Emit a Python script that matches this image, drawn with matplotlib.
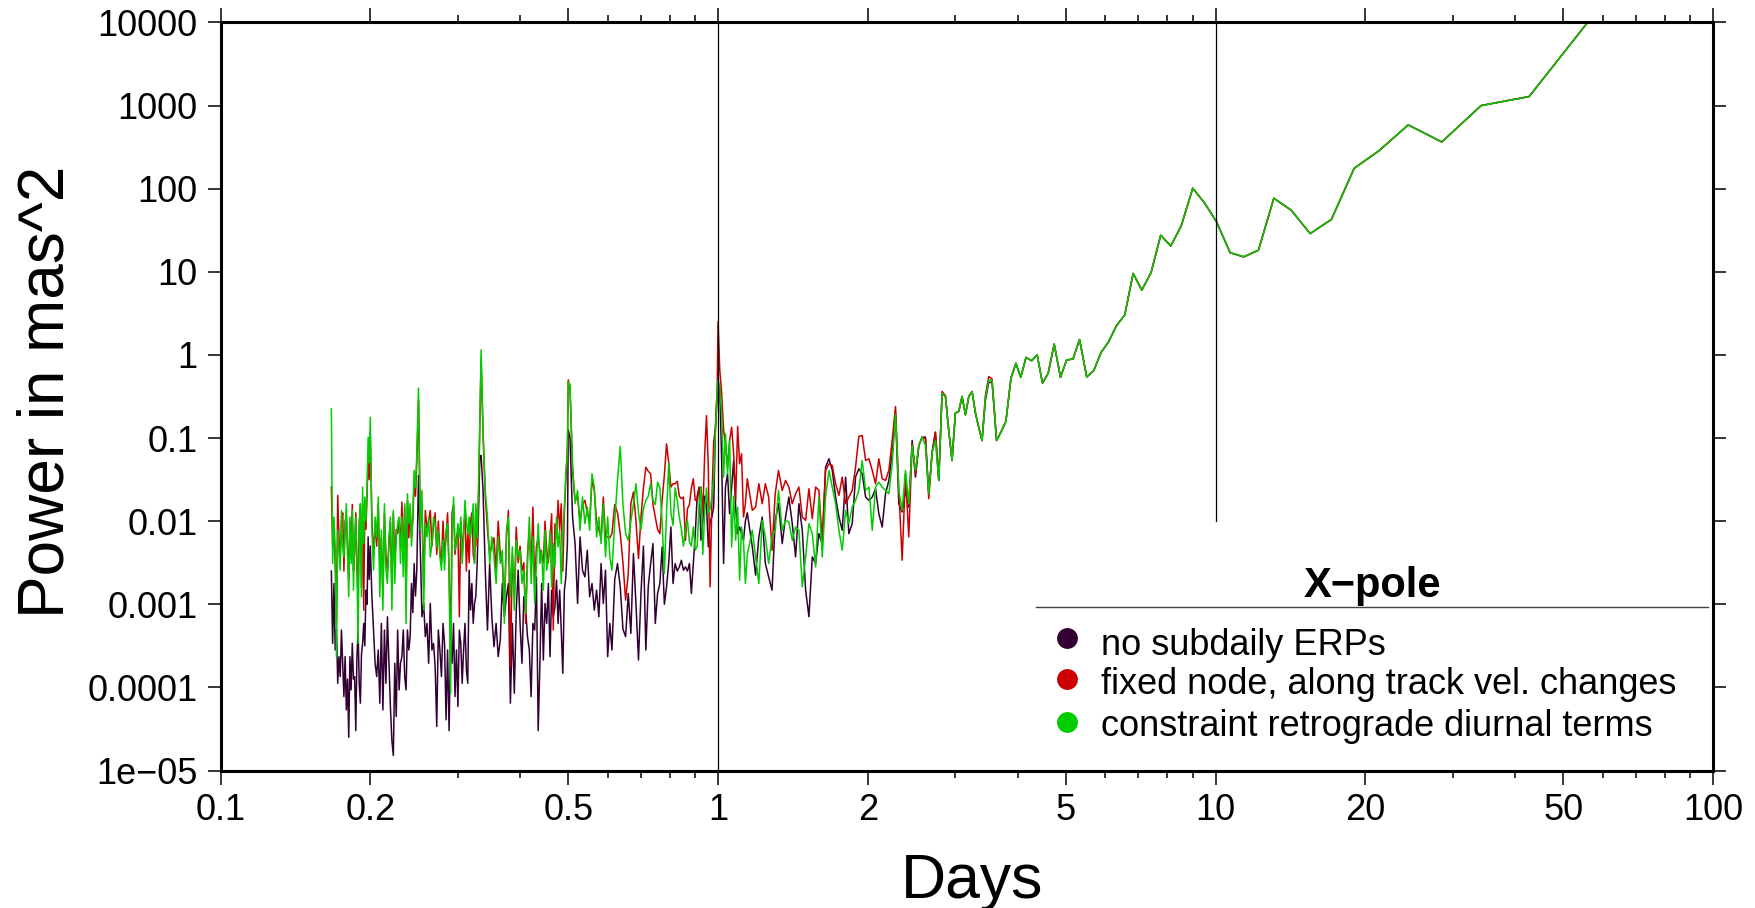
import numpy as np
import matplotlib.pyplot as plt
from matplotlib.lines import Line2D

plt.rcParams['font.family'] = ['Liberation Sans', 'DejaVu Sans']

days = [
    # 0.167 - 0.200
    0.167, 0.168, 0.169, 0.170, 0.171, 0.172, 0.173, 0.174, 0.175, 0.176,
    0.177, 0.178, 0.179, 0.180, 0.181, 0.182, 0.183, 0.184, 0.185, 0.186,
    0.187, 0.188, 0.189, 0.190, 0.191, 0.192, 0.193, 0.194, 0.195, 0.196,
    0.197, 0.198, 0.199, 0.200,
    # 0.2 - 0.25
    0.2015, 0.2030, 0.2045, 0.2060, 0.2075, 0.2090, 0.2105, 0.2120, 0.2135, 0.2150,
    0.2165, 0.2180, 0.2195, 0.2210, 0.2225, 0.2240, 0.2255, 0.2270, 0.2285, 0.2300,
    0.2315, 0.2330, 0.2345, 0.2360, 0.2375, 0.2390, 0.2405, 0.2420, 0.2435, 0.2450,
    0.2465, 0.2480, 0.2500,
    # 0.25 - 0.334
    0.252, 0.254, 0.256, 0.258, 0.260, 0.262, 0.264, 0.266, 0.268, 0.270,
    0.272, 0.274, 0.276, 0.278, 0.280, 0.282, 0.284, 0.286, 0.288, 0.290,
    0.292, 0.294, 0.296, 0.298, 0.300, 0.302, 0.304, 0.306, 0.308, 0.310,
    0.312, 0.314, 0.316, 0.318, 0.320, 0.322, 0.324, 0.326, 0.328, 0.330,
    0.332, 0.334,
    # 0.334 - 0.5
    0.337, 0.3405, 0.344, 0.3475, 0.351, 0.3545, 0.358, 0.3615, 0.365, 0.3685,
    0.372, 0.3755, 0.379, 0.3825, 0.386, 0.3895, 0.393, 0.3965, 0.400, 0.4035,
    0.407, 0.4105, 0.414, 0.4175, 0.421, 0.4245, 0.428, 0.4315, 0.435, 0.4385,
    0.442, 0.4455, 0.449, 0.4525, 0.456, 0.4595, 0.463, 0.4665, 0.470, 0.4735,
    0.477, 0.4805, 0.484, 0.4875, 0.491, 0.4945, 0.498, 0.500,
    # 0.5 - 0.6
    0.504, 0.510, 0.516, 0.522, 0.528, 0.534, 0.540, 0.546, 0.552, 0.558,
    0.564, 0.570, 0.576, 0.582, 0.588, 0.594, 0.600, 0.606,
    # 0.6 - 1.0
    0.612, 0.620, 0.628, 0.636, 0.644, 0.652, 0.660, 0.668, 0.676, 0.684,
    0.692, 0.700, 0.708, 0.716, 0.724, 0.732, 0.740, 0.748, 0.756, 0.764,
    0.772, 0.780, 0.788, 0.796, 0.804, 0.812, 0.820, 0.828, 0.836, 0.844,
    0.852, 0.860, 0.868, 0.876, 0.884, 0.892, 0.900, 0.908, 0.916, 0.924,
    0.932, 0.940, 0.948, 0.956, 0.964, 0.972, 0.980, 0.988, 0.996,
    1.000,
    # 1.0 - 1.15
    1.008, 1.017, 1.026, 1.035, 1.045, 1.055, 1.065, 1.075, 1.085, 1.095,
    1.105, 1.115, 1.125, 1.135, 1.145,
    # 1.15 - 3.6
    1.172, 1.190, 1.208, 1.227, 1.245, 1.264, 1.284, 1.303, 1.323, 1.346,
    1.367, 1.388, 1.410, 1.432, 1.454, 1.477, 1.500, 1.523, 1.547, 1.571,
    1.595, 1.620, 1.645, 1.671, 1.697, 1.723, 1.750, 1.777, 1.805, 1.832,
    1.861, 1.890, 1.919, 1.949, 1.980, 2.011, 2.042, 2.073, 2.105, 2.138,
    2.171, 2.205, 2.239, 2.274, 2.309, 2.345, 2.381, 2.418, 2.456, 2.494,
    2.533, 2.572, 2.612, 2.652, 2.694, 2.735, 2.778, 2.821, 2.865, 2.909,
    2.954, 3.000, 3.047, 3.094, 3.143, 3.192, 3.241, 3.292, 3.342, 3.394,
    3.447, 3.501, 3.555,
    # long periods
    3.63, 3.71, 3.79, 3.88, 3.97, 4.06, 4.16, 4.27, 4.38, 4.49,
    4.61, 4.74, 4.88, 5.02, 5.17, 5.33, 5.51, 5.69, 5.89, 6.10,
    6.32, 6.57, 6.83, 7.11, 7.42, 7.76, 8.13, 8.53, 9.0, 9.5,
    10.05, 10.7, 11.4, 12.2, 13.1, 14.2, 15.5, 17.1, 19.0, 21.3,
    24.4, 28.5, 34.2, 42.7, 57.0,
]

# log10(power in mas^2); the three solutions coincide above ~3.6 days
log_tail = [
    -1.03, -0.92, -0.80, -0.28, -0.10, -0.27, -0.03, -0.07, 0.0, -0.34,
    -0.22, 0.13, -0.27, -0.06, -0.05, 0.185, -0.265, -0.19, 0.03, 0.16,
    0.35, 0.48, 0.98, 0.78, 0.99, 1.44, 1.31, 1.55, 2.005, 1.83,
    1.60, 1.23, 1.18, 1.26, 1.885, 1.74, 1.46, 1.63, 2.245, 2.455,
    2.767, 2.562, 3.0, 3.108, 4.06,
]

log_no_subdaily = [
    -2.6, -3.47, -2.75, -3.55, -3.3, -3.95, -3.63, -3.87, -3.31, -3.7,
    -4.11, -3.63, -4.27, -3.9, -4.6, -3.63, -4.03, -3.47, -3.9, -3.87,
    -4.52, -3.63, -3.31, -3.95, -4.19, -3.6, -3.47, -3.23, -3.5, -2.83,
    -3.0, -2.19, -2.7, -2.3,
    -2.91, -3.31, -3.71, -3.87, -3.55, -4.19, -3.23, -4.27, -3.31, -3.95,
    -3.15, -3.71, -4.23, -4.64, -4.82, -3.71, -4.35, -3.31, -4.03, -3.71,
    -3.63, -3.31, -3.87, -4.03, -3.31, -3.55, -3.39, -2.75, -3.1, -2.51,
    -2.9, -2.6, -1.45,
    -2.3, -3.15, -2.99, -3.39, -3.23, -3.71, -2.99, -3.55, -3.47, -3.75,
    -4.47, -3.31, -3.55, -3.87, -3.23, -3.47, -4.39, -3.55, -4.52, -3.39,
    -3.71, -3.23, -4.11, -3.55, -4.23, -3.31, -3.47, -3.95, -3.55, -3.23,
    -3.79, -3.95, -2.59, -3.07, -2.75, -3.23, -2.99, -2.9, -2.5, -1.9,
    -1.23, -1.21,
    -1.63, -2.59, -3.31, -2.51, -3.15, -3.51, -3.23, -3.63, -3.43, -2.75,
    -3.15, -2.91, -2.75, -4.19, -3.23, -4.07, -3.07, -2.59, -3.23, -3.71,
    -2.91, -3.07, -3.39, -3.55, -4.11, -3.23, -3.31, -2.67, -4.52, -3.71,
    -2.75, -3.67, -2.99, -3.23, -2.75, -3.63, -2.83, -3.15, -3.03, -2.71,
    -3.23, -2.83, -3.31, -3.83, -2.83, -2.67, -2.27, -0.9,
    -1.0, -1.95, -2.27, -2.99, -2.19, -2.59, -2.67, -2.35, -2.91, -2.75,
    -3.07, -2.83, -3.15, -2.51, -2.99, -2.59, -3.63, -3.23,
    -3.55, -2.7, -2.51, -2.79, -3.3, -3.39, -2.87, -3.35, -2.39, -3.0,
    -3.67, -2.87, -2.3, -3.55, -2.79, -2.51, -2.27, -3.23, -2.87, -2.75,
    -2.31, -3.0, -2.79, -2.5, -2.07, -2.75, -2.51, -2.6, -2.55, -2.47,
    -2.59, -2.55, -2.6, -2.51, -2.87, -2.5, -2.15, -1.7, -1.59, -2.23,
    -2.0, -1.7, -1.8, -2.31, -2.0, -1.95, -1.83, -0.9, -0.5,
    -0.38,
    -0.38, -1.27, -2.51, -1.59, -1.43, -1.91, -1.59, -1.27, -1.83, -2.15,
    -2.07, -2.15, -2.23, -2.0, -1.9,
    -2.31, -2.65, -2.19, -1.95, -2.51, -2.67, -2.83, -1.99, -1.79, -2.27,
    -1.95, -1.71, -2.03, -2.43, -1.79, -2.11, -2.83, -3.15, -2.43, -2.51,
    -2.15, -2.27, -1.35, -1.25, -1.39, -1.71, -1.95, -2.11, -1.47, -2.15,
    -2.03, -1.47, -1.37, -1.43, -1.71, -1.75, -1.71, -1.61, -1.91, -2.07,
    -1.67, -1.51, -1.19, -0.70, -1.79, -1.89, -1.63, -1.83, -1.03, -1.47,
    -1.09, -0.99, -0.99, -1.67, -1.17, -0.93, -1.51, -0.46, -0.50, -0.91,
    -1.27, -0.70, -0.68, -0.50, -0.72, -0.50, -0.44, -0.70, -0.87, -1.03,
    -0.55, -0.33, -0.33,
] + log_tail

log_fixed_node = [
    -1.59, -2.3, -2.05, -2.5, -3.2, -1.69, -2.2, -2.45, -2.0, -1.9,
    -2.6, -2.0, -1.95, -2.3, -2.7, -2.0, -2.3, -1.8, -2.6, -2.4,
    -1.9, -2.5, -2.9, -2.0, -1.85, -2.8, -1.8, -3.07, -1.75, -2.1,
    -1.7, -1.2, -1.5, -0.99,
    -2.0, -2.4, -2.05, -2.3, -1.8, -2.6, -2.2, -2.9, -1.9, -2.4,
    -2.6, -2.3, -2.0, -2.8, -1.9, -2.5, -2.1, -2.15, -2.0, -2.3,
    -1.77, -2.5, -1.83, -2.9, -1.75, -2.2, -1.85, -2.2, -2.0, -1.5,
    -1.7, -1.3, -0.54,
    -2.0, -1.8, -2.8, -1.87, -2.1, -2.0, -1.87, -2.3, -2.05, -1.9,
    -2.4, -2.0, -2.35, -2.5, -2.0, -2.4, -2.2, -1.9, -2.6, -3.6,
    -1.9, -1.8, -2.4, -2.2, -2.1, -3.15, -2.0, -2.4, -2.1, -1.9,
    -2.6, -2.1, -2.5, -2.0, -1.9, -2.4, -2.5, -1.85, -2.3, -1.7,
    -0.9, -0.05,
    -0.95, -1.7, -2.1, -2.4, -2.3, -2.2, -2.6, -2.0, -2.4, -2.5,
    -3.0, -2.2, -1.87, -3.75, -2.4, -2.9, -2.07, -2.5, -2.3, -2.6,
    -2.5, -3.23, -2.4, -2.1, -2.6, -1.83, -2.8, -2.3, -2.2, -2.35,
    -2.4, -2.5, -2.0, -2.35, -2.5, -2.2, -1.91, -3.31, -2.03, -2.2,
    -1.75, -2.1, -1.79, -2.6, -1.9, -1.5, -1.1, -0.3,
    -0.4, -1.4, -1.75, -1.7, -2.0, -1.8, -1.75, -1.9, -2.0, -1.5,
    -1.63, -2.0, -2.1, -2.2, -1.71, -2.2, -2.19, -2.2,
    -2.15, -1.8, -1.9, -2.15, -2.5, -2.95, -2.63, -1.79, -1.65, -2.0,
    -2.45, -1.95, -1.6, -1.35, -1.4, -1.43, -1.8, -1.95, -2.1, -2.15,
    -1.75, -1.45, -1.07, -1.3, -1.59, -1.55, -1.55, -1.52, -1.7, -1.73,
    -1.71, -2.23, -1.85, -1.8, -1.6, -1.49, -1.75, -1.75, -1.6, -1.59,
    -1.9, -1.2, -0.73, -1.35, -2.79, -1.75, -1.05, -0.87, -0.4,
    0.40,
    -0.18, -0.46, -0.9, -1.07, -1.35, -1.03, -0.87, -1.19, -1.75, -0.86,
    -1.31, -1.19, -1.95, -1.79, -1.49,
    -1.87, -1.83, -1.55, -1.79, -1.55, -1.71, -2.35, -1.67, -1.39, -1.63,
    -1.51, -1.59, -1.79, -1.67, -1.59, -1.95, -1.99, -1.61, -1.97, -1.59,
    -1.63, -2.23, -1.39, -1.31, -1.33, -1.55, -1.69, -1.47, -1.79, -1.71,
    -1.63, -1.35, -0.98, -0.97, -1.27, -1.25, -1.39, -1.55, -1.25, -1.49,
    -1.51, -1.39, -1.03, -0.62, -1.63, -2.47, -1.43, -2.19, -1.07, -1.43,
    -1.09, -0.99, -1.01, -1.73, -1.17, -0.93, -1.51, -0.44, -0.49, -0.91,
    -1.27, -0.70, -0.68, -0.50, -0.72, -0.50, -0.44, -0.70, -0.87, -1.03,
    -0.49, -0.26, -0.29,
] + log_tail

log_constraint_retro = [
    -0.65, -2.51, -1.95, -2.35, -3.63, -2.11, -2.35, -2.59, -1.87, -2.3,
    -2.43, -2.11, -1.79, -2.4, -2.91, -1.95, -2.51, -1.87, -2.83, -2.19,
    -1.95, -2.6, -3.47, -2.11, -1.79, -2.91, -1.59, -2.27, -1.71, -2.0,
    -1.6, -0.99, -1.3, -0.75,
    -2.11, -2.59, -1.95, -2.19, -1.71, -2.91, -2.11, -3.07, -1.79, -2.59,
    -2.75, -2.19, -1.95, -3.07, -1.87, -2.75, -2.19, -2.03, -1.95, -2.51,
    -1.95, -2.67, -1.79, -3.23, -1.67, -2.03, -1.79, -2.3, -1.9, -1.39,
    -1.6, -1.2, -0.40,
    -2.11, -1.63, -3.07, -2.03, -2.19, -1.95, -2.43, -2.27, -1.95, -2.03,
    -2.31, -2.11, -2.43, -2.59, -2.23, -2.59, -2.11, -2.03, -2.59, -4.07,
    -2.19, -1.71, -2.35, -2.27, -2.03, -2.19, -1.95, -2.51, -2.19, -1.75,
    -2.0, -2.15, -1.95, -2.19, -2.03, -1.79, -2.51, -1.79, -2.2, -1.6,
    -0.82, 0.06,
    -0.9, -1.63, -1.95, -2.51, -2.19, -2.43, -2.75, -2.19, -2.51, -2.35,
    -3.23, -2.11, -1.95, -2.91, -2.31, -3.07, -2.23, -2.43, -2.35, -2.75,
    -2.59, -3.11, -2.51, -1.95, -2.75, -2.19, -2.99, -2.51, -2.03, -2.51,
    -2.35, -2.83, -2.11, -2.59, -2.43, -2.11, -2.79, -2.27, -2.55, -1.95,
    -2.31, -2.11, -2.75, -2.19, -1.83, -1.39, -1.2, -0.32,
    -0.36, -1.31, -1.79, -1.63, -2.11, -1.71, -2.03, -1.83, -2.11, -1.43,
    -1.59, -2.19, -1.95, -2.27, -1.79, -2.43, -1.95, -2.43,
    -2.59, -2.0, -1.5, -1.1, -1.8, -2.15, -2.23, -2.0, -1.8, -1.55,
    -1.9, -2.1, -1.85, -1.75, -1.7, -1.55, -1.75, -1.8, -1.53, -1.6,
    -2.0, -2.63, -1.9, -1.3, -1.9, -2.05, -1.6, -1.75, -1.95, -2.1,
    -2.3, -2.1, -1.99, -2.25, -2.3, -2.07, -2.35, -2.3, -1.8, -1.59,
    -2.4, -1.9, -1.6, -1.9, -1.85, -1.7, -1.5, -0.9, -0.42,
    -0.30,
    -0.38, -0.7, -1.47, -0.95, -1.43, -1.03, -2.31, -1.7, -2.23, -1.83,
    -2.71, -2.07, -2.23, -2.75, -2.4,
    -2.11, -2.43, -2.75, -1.99, -2.19, -2.51, -2.19, -2.11, -1.63, -2.11,
    -1.99, -2.01, -2.23, -2.07, -2.11, -2.79, -2.43, -2.03, -2.15, -2.55,
    -1.71, -2.43, -1.71, -1.39, -1.59, -1.79, -2.11, -2.35, -1.87, -2.03,
    -1.83, -1.75, -1.63, -1.27, -1.63, -1.59, -2.11, -1.59, -1.53, -1.59,
    -1.63, -1.67, -1.31, -0.72, -1.63, -1.87, -1.39, -1.79, -1.09, -1.39,
    -1.09, -0.99, -1.09, -1.67, -1.17, -1.03, -1.51, -0.46, -0.50, -0.91,
    -1.27, -0.70, -0.68, -0.50, -0.72, -0.50, -0.44, -0.70, -0.87, -1.03,
    -0.52, -0.30, -0.31,
] + log_tail

labels = ['no subdaily ERPs',
          'fixed node, along track vel. changes',
          'constraint retrograde diurnal terms']
colors = ['#330033', '#cc0000', '#00cc00']

x_major = [0.1, 0.2, 0.5, 1, 2, 5, 10, 20, 50, 100]
x_major_labels = ['0.1', '0.2', '0.5', '1', '2', '5', '10', '20', '50', '100']
x_minor = [0.3, 0.4, 0.6, 0.7, 0.8, 0.9, 3, 4, 6, 7, 8, 9, 30, 40, 60, 70, 80, 90]
y_ticks = [1e-5, 1e-4, 1e-3, 1e-2, 1e-1, 1, 10, 100, 1000, 10000]
y_labels = ['1e\u221205', '0.0001', '0.001', '0.01', '0.1', '1', '10', '100', '1000', '10000']

fig = plt.figure(figsize=(17.56, 9.08), dpi=100)
ax = fig.add_axes([0.1256, 0.1514, 0.8499, 0.8239])

for vals, c in zip([log_no_subdaily, log_fixed_node, log_constraint_retro], colors):
    ax.plot(days, np.power(10.0, np.array(vals)), color=c, lw=1.1)

ax.plot([1, 1], [1e-5, 1e4], color='black', lw=0.9, zorder=5)
ax.plot([10, 10], [1e-2, 1e4], color='black', lw=0.9, zorder=5)

ax.set_xscale('log')
ax.set_yscale('log')
ax.set_xlim(0.1, 100)
ax.set_ylim(1e-5, 1e4)

ax.set_xticks(x_major, x_major_labels)
ax.set_xticks(x_minor, minor=True)
ax.xaxis.set_minor_formatter(plt.NullFormatter())
ax.set_yticks(y_ticks, y_labels)
ax.yaxis.set_minor_locator(plt.NullLocator())

ax.tick_params(which='both', direction='out', top=True, right=True,
               labeltop=False, labelright=False, width=1.1, labelsize=26)
ax.tick_params(axis='x', which='major', length=10, pad=6)
ax.tick_params(axis='x', which='minor', length=5)
ax.tick_params(axis='y', which='major', length=9.5, pad=7)
for s in ax.spines.values():
    s.set_linewidth(2.2)

fig.text(0.0262, 0.5683, 'Power in mas^2', rotation=90, ha='center', va='center', fontsize=46)
fig.text(0.5535, 0.011, 'Days', ha='center', va='baseline', fontsize=45)

# legend block
fig.text(0.7813, 0.3425, 'X\u2212pole', ha='center', va='baseline', fontsize=30, fontweight='bold')
fig.add_artist(Line2D([0.590, 0.9727], [0.3315, 0.3315], color='#444444', lw=1.0))
for i, (lab, c) in enumerate(zip(labels, colors)):
    fig.add_artist(Line2D([0.6076], [[0.2974, 0.2522, 0.2048][i]], marker='o', markersize=15,
                          color=c, markeredgewidth=0))
    fig.text(0.627, [0.2786, 0.2357, 0.1894][i], lab, ha='left', va='baseline', fontsize=26)

fig.savefig('out.png', dpi=100)
